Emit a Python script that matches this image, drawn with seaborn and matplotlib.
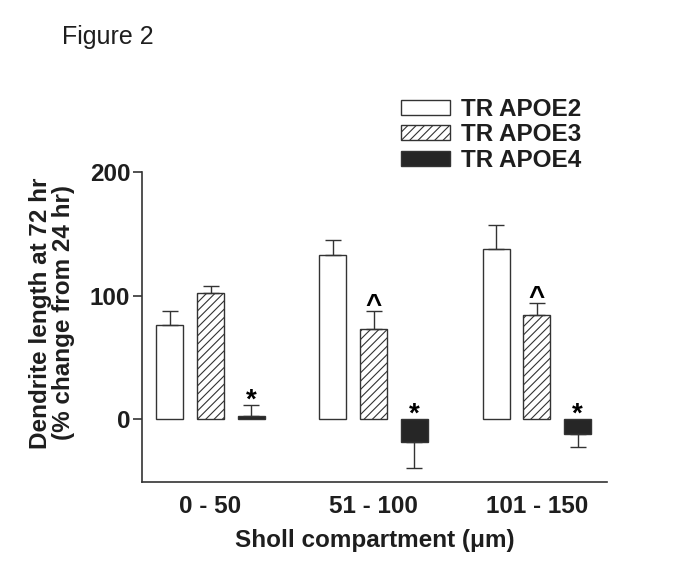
import matplotlib
matplotlib.use("Agg")
import matplotlib.pyplot as plt
import numpy as np
import pandas as pd
import seaborn as sns
from matplotlib.patches import Patch

# ---- data ----
categories = ["0 - 50", "51 - 100", "101 - 150"]
genotypes = ["TR APOE2", "TR APOE3", "TR APOE4"]
apoe2_mean = [76, 132.5, 137.7]
apoe3_mean = [101.8, 72.9, 84.5]
apoe4_mean = [2.5, -19, -12.4]
apoe2_sem = [11.7, 12.2, 19.1]
apoe3_sem = [6.2, 14.3, 9.2]
apoe4_sem = [8.9, 20.4, 10.0]
apoe2_marks = ["", "", ""]
apoe3_marks = ["", "^", "^"]
apoe4_marks = ["*", "*", "*"]

means = [apoe2_mean, apoe3_mean, apoe4_mean]
sems = [apoe2_sem, apoe3_sem, apoe4_sem]
marks = [apoe2_marks, apoe3_marks, apoe4_marks]

df = pd.DataFrame({
    "compartment": categories * 3,
    "genotype": [g for g in genotypes for _ in categories],
    "change": apoe2_mean + apoe3_mean + apoe4_mean,
})

# ---- style ----
sns.set_style("ticks")
plt.rcParams["font.family"] = ["Liberation Sans", "DejaVu Sans"]
plt.rcParams["hatch.linewidth"] = 0.8
TXT = "#1e1e1e"
EDGE = "#333333"
FS = 17.5

fig = plt.figure(figsize=(6.85, 5.79), dpi=100)
ax = fig.add_axes([142 / 685, 1 - 482 / 579, 465 / 685, 310 / 579])

fills = ["white", "white", "#262626"]
hatches = ["", "////", ""]
sns.barplot(data=df, x="compartment", y="change", hue="genotype",
            order=categories, hue_order=genotypes,
            palette=dict(zip(genotypes, fills)),
            width=0.75, gap=0.336, errorbar=None,
            edgecolor=EDGE, linewidth=1.0, legend=False, ax=ax)

bar_containers = list(ax.containers)
for i, cont in enumerate(bar_containers):
    for j, bar in enumerate(cont.patches):
        bar.set_hatch(hatches[i])
        bar.set_edgecolor(EDGE)
        x = bar.get_x() + bar.get_width() / 2
        h = means[i][j]
        e = sems[i][j]
        yerr = [[0], [e]] if h >= 0 else [[e], [0]]
        ax.errorbar([x], [h], yerr=yerr, fmt="none", ecolor=EDGE,
                    elinewidth=1.0, capsize=5.5, capthick=1.0, zorder=1)
        m = marks[i][j]
        if m == "*":
            top = (h + e) if h >= 0 else 0
            ax.text(x, top - 2.5, m, ha="center", va="baseline",
                    fontsize=20, fontweight="bold", color="black")
        elif m == "^":
            ax.text(x, h + e - 1.5, m, ha="center", va="baseline",
                    fontsize=FS + 2.5, fontweight="bold", color="black")

ax.set_xlim(-0.42, 2.43)
ax.set_ylim(-51, 200)
ax.set_yticks([0, 100, 200])
sns.despine(ax=ax)
for s in ["left", "bottom"]:
    ax.spines[s].set_color(EDGE)
    ax.spines[s].set_linewidth(1.2)
ax.tick_params(axis="y", length=6.5, width=1.2, color=EDGE, pad=2,
               labelsize=FS, labelcolor=TXT)
ax.tick_params(axis="x", length=0, pad=9.5, labelsize=FS, labelcolor=TXT)
for lab in ax.get_xticklabels() + ax.get_yticklabels():
    lab.set_fontweight("bold")

ax.set_xlabel("Sholl compartment (\u03bcm)", fontsize=FS, fontweight="bold",
              color=TXT, labelpad=8)
ax.set_ylabel("")
fig.text(52 / 685, 1 - 313 / 579,
         "Dendrite length at 72 hr\n(% change from 24 hr)",
         rotation=90, ha="center", va="center", multialignment="center",
         fontsize=FS, fontweight="bold", color=TXT, linespacing=1.05)

fig.text(62 / 685, 1 - 44 / 579, "Figure 2", ha="left", va="baseline",
         fontsize=18, color=TXT)

handles = [Patch(facecolor=fills[k], edgecolor=EDGE, hatch=hatches[k],
                 linewidth=1.0) for k in range(3)]
leg = fig.legend(handles, genotypes, loc="upper left",
                 bbox_to_anchor=(401 / 685, 1 - 98 / 579),
                 frameon=False, borderpad=0, borderaxespad=0,
                 handlelength=2.0, handleheight=0.58, handletextpad=0.45,
                 labelspacing=0.1, prop={"size": FS, "weight": "bold"})
for t in leg.get_texts():
    t.set_color(TXT)

fig.savefig("out.png", dpi=100)
